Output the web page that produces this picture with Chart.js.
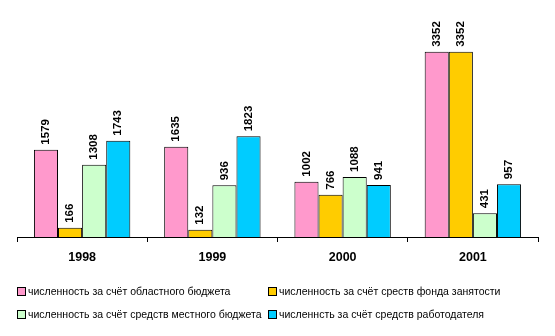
<!DOCTYPE html>
<html>
<head>
<meta charset="utf-8">
<script src="https://cdn.jsdelivr.net/npm/chart.js@4/dist/chart.umd.min.js"></script>
<style>
  html, body { margin: 0; padding: 0; background: #fff; }
  #wrap { position: relative; width: 555px; height: 336px; }
  #box { position: absolute; left: 0; top: 0; width: 555px; height: 273px; }
  #legend { position: absolute; left: 0; top: 0; width: 555px; height: 336px; pointer-events: none;
    font-family: "Liberation Sans", Arial, sans-serif; font-size: 10.5px; color: #000; }
  .item { position: absolute; white-space: nowrap; line-height: 13px; }
  .sw { display: inline-block; width: 7px; height: 7px; border: 1px solid #000; margin-right: 2px; vertical-align: -1px; }
</style>
</head>
<body>
<div id="wrap">
  <div id="box"><canvas id="chart"></canvas></div>
  <div id="legend"></div>
</div>
<script>
const years = ['1998', '1999', '2000', '2001'];
const seriesNames = [
  'численность за счёт областного бюджета',
  'численность за счёт среств фонда занятости',
  'численность за счёт средств местного бюджета',
  'численнсть за счёт средств работодателя',
];
const oblastBudget = [1579, 1635, 1002, 3352];
const employmentFund = [166, 132, 766, 3352];
const localBudget = [1308, 936, 1088, 431];
const employerFunds = [1743, 1823, 941, 957];
const colors = ['#FF99CC', '#FFCC00', '#CCFFCC', '#00CCFF'];
const yMax = 4000;

const seriesValues = [oblastBudget, employmentFund, localBudget, employerFunds];

// value labels above bars, rotated
const barLabels = {
  id: 'barLabels',
  afterDatasetsDraw(chart) {
    const { ctx } = chart;
    ctx.save();
    ctx.font = 'bold 11.5px "Liberation Sans", Arial, sans-serif';
    ctx.fillStyle = '#000';
    ctx.textAlign = 'left';
    ctx.textBaseline = 'middle';
    chart.data.datasets.forEach((ds, i) => {
      chart.getDatasetMeta(i).data.forEach((bar, j) => {
        ctx.save();
        ctx.translate(bar.x, bar.y - 5);
        ctx.rotate(-Math.PI / 2);
        ctx.fillText(String(ds.data[j]), 0, 0);
        ctx.restore();
      });
    });
    ctx.restore();
  },
};

const chart = new Chart(document.getElementById('chart'), {
  type: 'bar',
  data: {
    labels: years,
    datasets: seriesValues.map((vals, i) => ({
      label: seriesNames[i],
      data: vals,
      backgroundColor: colors[i],
      borderColor: '#000',
      borderWidth: 1,
      categoryPercentage: 0.74,
      barPercentage: 1,
    })),
  },
  options: {
    responsive: true,
    maintainAspectRatio: false,
    animation: false,
    layout: { padding: { left: 17, right: 17, top: 16, bottom: 0 } },
    plugins: {
      legend: { display: false },
      tooltip: { enabled: false },
    },
    scales: {
      x: {
        grid: {
          display: true,
          drawOnChartArea: false,
          drawTicks: true,
          tickLength: 5,
          color: '#000',
          offset: true,
        },
        border: { display: true, color: '#000', width: 1 },
        ticks: {
          color: '#000',
          padding: 8,
          font: { family: '"Liberation Sans", Arial, sans-serif', size: 12.5, weight: 'bold' },
        },
      },
      y: {
        display: false,
        min: 0,
        max: yMax,
      },
    },
  },
  plugins: [barLabels],
});

// legend, two columns
const legendPos = [[17, 285], [268, 285], [17, 308], [268, 308]];
const legendEl = document.getElementById('legend');
seriesNames.forEach((name, i) => {
  const item = document.createElement('div');
  item.className = 'item';
  item.style.left = `${legendPos[i][0]}px`;
  item.style.top = `${legendPos[i][1]}px`;
  item.innerHTML = `<span class="sw" style="background:${colors[i]}"></span>${name}`;
  legendEl.appendChild(item);
});
</script>
</body>
</html>
